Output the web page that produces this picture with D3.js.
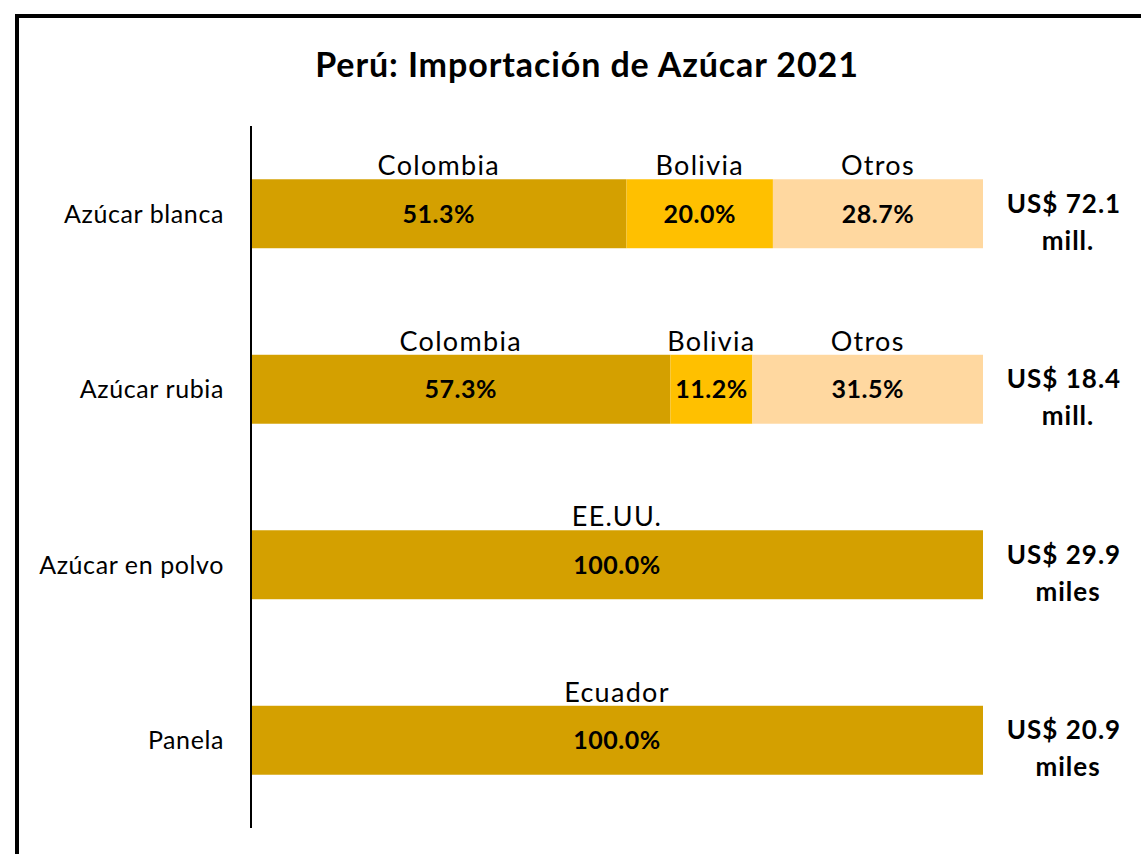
<!DOCTYPE html>
<html><head><meta charset="utf-8">
<script src="https://cdn.jsdelivr.net/npm/d3@7"></script>
<style>html,body{margin:0;padding:0;background:#fff;}svg{display:block;}</style>
</head><body>
<svg id="chart" width="1141" height="854"></svg>
<script>
const title = "Perú: Importación de Azúcar 2021";
const categories = ["Azúcar blanca", "Azúcar rubia", "Azúcar en polvo", "Panela"];
const segmentNames = [["Colombia", "Bolivia", "Otros"], ["Colombia", "Bolivia", "Otros"], ["EE.UU."], ["Ecuador"]];
const shares = [[51.3, 20.0, 28.7], [57.3, 11.2, 31.5], [100.0], [100.0]];
const totals = ["US$ 72.1", "US$ 18.4", "US$ 29.9", "US$ 20.9"];
const units = ["mill.", "mill.", "miles", "miles"];
const colors = ["#D4A000", "#FFC000", "#FFD8A0"];

const svg = d3.select("#chart");
const font = "Lato, 'Open Sans', sans-serif";

// frame
svg.append("rect").attr("x", 17).attr("y", 16).attr("width", 1300).attr("height", 1000)
  .attr("fill", "none").attr("stroke", "#000").attr("stroke-width", 4);

svg.append("text").attr("x", 587).attr("y", 77).attr("text-anchor", "middle")
  .attr("font-family", font).attr("font-weight", "bold").attr("font-size", 34)
  .attr("letter-spacing", 0.9).attr("fill", "#000").text(title);

const x = d3.scaleLinear().domain([0, 100]).range([251, 983]);
const y = d3.scaleBand().domain(categories).range([126, 828]).paddingInner(0.607).paddingOuter(0.3035);

categories.forEach((cat, i) => {
  let acc = 0;
  const g = svg.append("g");
  const cy = y(cat) + y.bandwidth() / 2;
  const segs = shares[i].map((v, j) => { const s = {v, j, x0: acc, x1: acc + v, name: segmentNames[i][j]}; acc += v; return s; });
  g.selectAll("rect").data(segs).join("rect")
    .attr("x", d => x(d.x0)).attr("width", d => x(d.x1) - x(d.x0))
    .attr("y", y(cat)).attr("height", y.bandwidth())
    .attr("fill", d => colors[d.j]);
  g.selectAll("text.pct").data(segs).join("text").attr("class", "pct")
    .attr("x", d => (x(d.x0) + x(d.x1)) / 2).attr("y", cy + 9)
    .attr("text-anchor", "middle").attr("letter-spacing", 0.5)
    .attr("font-family", font).attr("font-weight", "bold").attr("font-size", 25)
    .text(d => d.v.toFixed(1) + "%");
  g.selectAll("text.name").data(segs).join("text").attr("class", "name")
    .attr("x", d => (x(d.x0) + x(d.x1)) / 2).attr("y", y(cat) - 4)
    .attr("text-anchor", "middle").attr("letter-spacing", 1.3)
    .attr("font-family", font).attr("font-size", 27)
    .text(d => d.name);
  svg.append("text").attr("x", 224).attr("y", cy + 9)
    .attr("text-anchor", "end").attr("letter-spacing", 0.6)
    .attr("font-family", font).attr("font-size", 25).text(cat);
  const t = svg.append("text").attr("text-anchor", "middle").attr("font-family", font)
    .attr("font-weight", "bold").attr("font-size", 26).attr("letter-spacing", 1);
  t.append("tspan").attr("x", 1064).attr("y", cy - 1).text(totals[i]);
  t.append("tspan").attr("x", 1068).attr("y", cy + 36).text(units[i]);
});

svg.append("line").attr("x1", 251).attr("x2", 251).attr("y1", 126).attr("y2", 828)
  .attr("stroke", "#000").attr("stroke-width", 2);
</script>
</body></html>
